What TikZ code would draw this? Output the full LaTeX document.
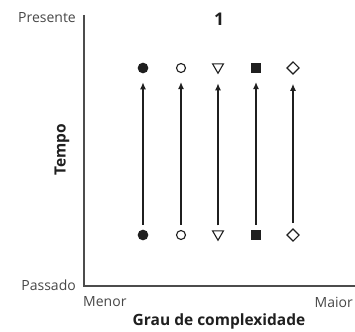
\documentclass[tikz,border=0pt]{standalone}
\usepackage{fontspec}
\setmainfont{Open Sans}
\usetikzlibrary{arrows.meta,shapes.geometric}
\begin{document}
\begin{tikzpicture}[x=1pt,y=-1pt,
  lbl/.style={inner sep=0pt,font=\fontsize{14}{16}\selectfont,text=black!72},
  blbl/.style={inner sep=0pt,font=\fontsize{15.5}{18}\selectfont\bfseries,text=black!88},
  axis/.style={line width=1.3pt,black!70},
  arr/.style={line width=1.2pt,black!88,-{Latex[length=7pt,width=6pt]},shorten <=5pt,shorten >=9pt},
  mk/.style={inner sep=0pt,line width=1.1pt,draw=black!88},
  fc/.style={mk,circle,minimum size=9.5pt,fill=black!88},
  oc/.style={mk,circle,minimum size=9pt},
  tri/.style={mk,regular polygon,regular polygon sides=3,shape border rotate=180,minimum size=12.5pt},
  sq/.style={mk,rectangle,minimum size=9pt,fill=black!88},
  dia/.style={mk,diamond,minimum size=12.5pt},
]
\useasboundingbox (0,0) rectangle (355,331);
\coordinate (ytop) at (84,15);
\coordinate (origin) at (84,286);
\coordinate (xend) at (355,286);
\draw[axis] (ytop) -- (origin) -- (xend);
\node[lbl,anchor=east] (pres) at (76,18) {Presente};
\node[lbl,anchor=east] (pass) at (76,285) {Passado};
\node[lbl,anchor=west] (men) at (83,302) {Menor};
\node[lbl,anchor=east] (mai) at (353,302) {Maior};
\node[blbl] (gc) at (219,321) {Grau de complexidade};
\node[blbl,rotate=90] (tempo) at (62,150) {Tempo};
\node[inner sep=0pt,font=\fontsize{17.5}{20}\selectfont\bfseries,text=black!88] (one) at (219,19) {1};
% top markers
\node[fc]  (t1) at (143,68) {};
\node[oc]  (t2) at (181,68) {};
\node[tri] (t3) at (218,67) {};
\node[sq]  (t4) at (256,68) {};
\node[dia] (t5) at (293,68) {};
% bottom markers
\node[fc]  (b1) at (143,235) {};
\node[oc]  (b2) at (181,235) {};
\node[tri] (b3) at (218,234) {};
\node[sq]  (b4) at (256,235) {};
\node[dia] (b5) at (293,235) {};
\foreach \i in {1,...,5}{
  \draw[arr] (b\i) -- (t\i);
}
\end{tikzpicture}
\end{document}
